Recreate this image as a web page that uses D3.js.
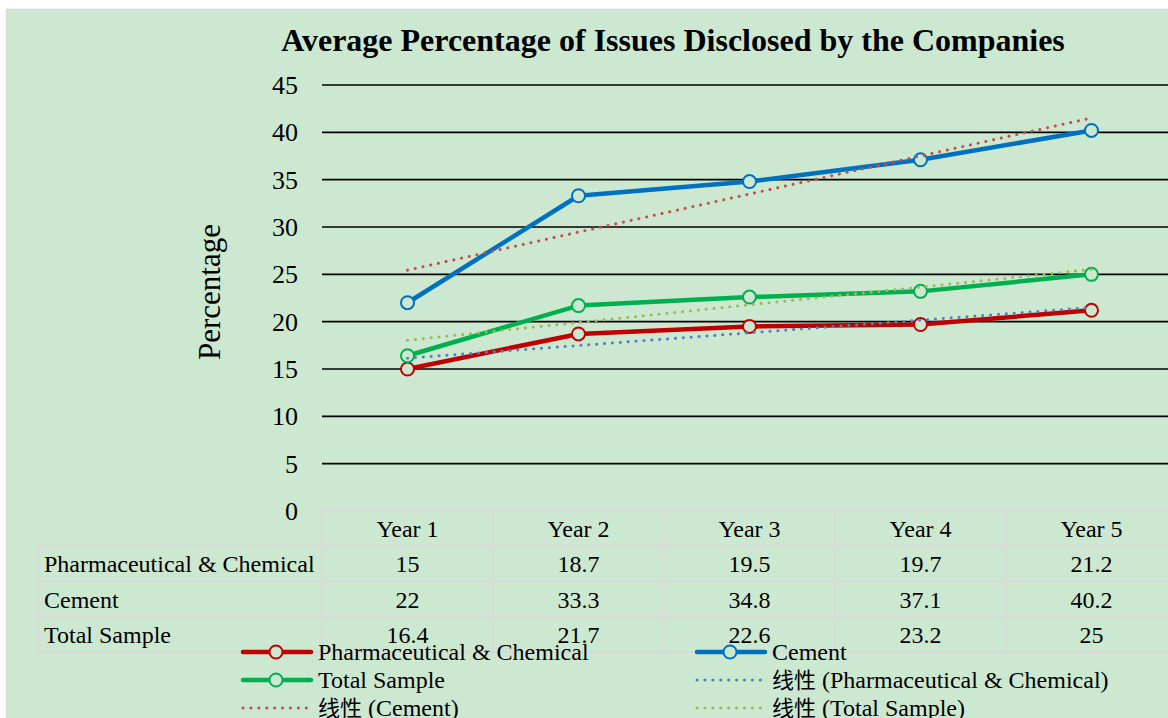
<!DOCTYPE html>
<html><head><meta charset="utf-8">
<script src="https://cdn.jsdelivr.net/npm/d3@7"></script>
<style>html,body{margin:0;padding:0;background:#fff;overflow:hidden}</style>
</head><body><svg id="c" width="1168" height="718"></svg>
<script>
const categories = ["Year 1","Year 2","Year 3","Year 4","Year 5"];
const pharma = [15, 18.7, 19.5, 19.7, 21.2];
const cement = [22, 33.3, 34.8, 37.1, 40.2];
const total = [16.4, 21.7, 22.6, 23.2, 25];
const yTicks = [0,5,10,15,20,25,30,35,40,45];
const title = "Average Percentage of Issues Disclosed by the Companies";
const yLabel = "Percentage";

const series = [
  {name:"Pharmaceutical & Chemical", values:pharma, color:"#c00000", trendColor:"#4f81bd"},
  {name:"Cement", values:cement, color:"#0070c0", trendColor:"#c0504d"},
  {name:"Total Sample", values:total, color:"#00b050", trendColor:"#9bbb59"}
];
const bg = "#cde8d0";
const font = "'Liberation Serif','Times New Roman',serif";
const cjk = "'Noto Sans CJK SC','Liberation Serif',serif";

const svg = d3.select("#c");
svg.append("rect").attr("x",6).attr("y",9).attr("width",1162).attr("height",709).attr("fill",bg);
svg.append("path").attr("d","M6.5,718V9.5H1168").attr("fill","none").attr("stroke","#d9d9d9").attr("stroke-width",1.5);

const left = 322, step = 171;
const x = d3.scaleBand().domain(categories).range([left, left + step*categories.length]).padding(0);
const y = d3.scaleLinear().domain([0,45]).range([511,85]);
const cx = c => x(c) + x.bandwidth()/2;

// title
svg.append("text").attr("x",673).attr("y",51).attr("text-anchor","middle")
  .attr("font-family",font).attr("font-weight","bold").attr("font-size",32).text(title);

// gridlines
svg.append("g").selectAll("line").data(yTicks.filter(t=>t>0)).join("line")
  .attr("x1",left).attr("x2",1168).attr("y1",d=>y(d)).attr("y2",d=>y(d))
  .attr("stroke","#000").attr("stroke-width",1.6);

// y tick labels
svg.append("g").selectAll("text").data(yTicks).join("text")
  .attr("x",298).attr("y",d=>y(d)).attr("dy","0.35em").attr("text-anchor","end")
  .attr("font-family",font).attr("font-size",26).text(d=>d);

// y label
svg.append("text").attr("transform","translate(220,292) rotate(-90)").attr("text-anchor","middle")
  .attr("font-family",font).attr("font-size",31).text(yLabel);

// data table
const tbl = svg.append("g");
const gridC = "#d9d9d9";
const rowY = [511,546,581,617,652];
const fs = 24;
tbl.append("line").attr("x1",left).attr("x2",1168).attr("y1",rowY[0]).attr("y2",rowY[0]).attr("stroke",gridC).attr("stroke-width",2);
rowY.slice(1).forEach(r=>tbl.append("line").attr("x1",38).attr("x2",1168).attr("y1",r).attr("y2",r).attr("stroke",gridC).attr("stroke-width",2));
tbl.append("line").attr("x1",38).attr("x2",38).attr("y1",546).attr("y2",652).attr("stroke",gridC).attr("stroke-width",2);
categories.forEach(c=>tbl.append("line").attr("x1",x(c)).attr("x2",x(c)).attr("y1",511).attr("y2",652).attr("stroke",gridC).attr("stroke-width",2));
tbl.selectAll("text.h").data(categories).join("text").attr("class","h")
  .attr("x",d=>cx(d)).attr("y",537).attr("text-anchor","middle")
  .attr("font-family",font).attr("font-size",fs).text(d=>d);
series.forEach((s,i)=>{
  const ty = 572 + i*35.5;
  tbl.append("text").attr("x",44).attr("y",ty).attr("font-family",font).attr("font-size",fs).text(s.name);
  tbl.selectAll(null).data(s.values).join("text")
    .attr("x",(d,j)=>cx(categories[j])).attr("y",ty).attr("text-anchor","middle")
    .attr("font-family",font).attr("font-size",fs).text(d=>d);
});

// lines
const line = d3.line().x((d,i)=>cx(categories[i])).y(d=>y(d));
series.forEach(s=>{
  svg.append("path").datum(s.values).attr("d",line).attr("fill","none")
    .attr("stroke",s.color).attr("stroke-width",4.5).attr("stroke-linejoin","round");
});
series.forEach(s=>{
  svg.append("g").selectAll("circle").data(s.values).join("circle")
    .attr("cx",(d,i)=>cx(categories[i])).attr("cy",d=>y(d)).attr("r",6.5)
    .attr("fill",bg).attr("stroke",s.color).attr("stroke-width",2);
});

// linear trendlines (least squares fit of each series)
function fit(v){
  const n=v.length, xs=v.map((_,i)=>i+1);
  const mx=d3.mean(xs), my=d3.mean(v);
  const b=d3.sum(xs.map((xi,i)=>(xi-mx)*(v[i]-my)))/d3.sum(xs.map(xi=>(xi-mx)**2));
  const a=my-b*mx;
  return [a+b*1, a+b*n];
}
series.forEach(s=>{
  const [y1,y2]=fit(s.values);
  svg.append("line").attr("x1",cx(categories[0])).attr("x2",cx(categories[categories.length-1]))
    .attr("y1",y(y1)).attr("y2",y(y2)).attr("stroke",s.trendColor).attr("stroke-width",3)
    .attr("stroke-dasharray","0.1,7.8").attr("stroke-linecap","round");
});

// legend
const legend = [
  {type:"line", s:series[0], label:"Pharmaceutical & Chemical", col:0, row:0},
  {type:"line", s:series[1], label:"Cement", col:1, row:0},
  {type:"line", s:series[2], label:"Total Sample", col:0, row:1},
  {type:"trend", color:series[0].trendColor, label:"线性 (Pharmaceutical & Chemical)", col:1, row:1},
  {type:"trend", color:series[1].trendColor, label:"线性 (Cement)", col:0, row:2},
  {type:"trend", color:series[2].trendColor, label:"线性 (Total Sample)", col:1, row:2}
];
const colX=[241,695], rowLY=[652,680,708];
legend.forEach(l=>{
  const g=svg.append("g").attr("transform",`translate(${colX[l.col]},${rowLY[l.row]})`);
  if(l.type==="line"){
    g.append("line").attr("x1",2).attr("x2",70).attr("y1",0).attr("y2",0).attr("stroke",l.s.color).attr("stroke-width",4.5).attr("stroke-linecap","round");
    g.append("circle").attr("cx",35).attr("cy",0).attr("r",6.5).attr("fill",bg).attr("stroke",l.s.color).attr("stroke-width",2);
  } else {
    g.append("line").attr("x1",2).attr("x2",70).attr("y1",0).attr("y2",0).attr("stroke",l.color).attr("stroke-width",3)
      .attr("stroke-dasharray","0.1,7.8").attr("stroke-linecap","round");
  }
  const t=g.append("text").attr("x",77).attr("y",0).attr("dy","0.35em").attr("font-family",font).attr("font-size",24);
  if(l.label.startsWith("线性")){
    t.append("tspan").attr("font-family",cjk).attr("font-size",22).text("线性");
    t.append("tspan").text(l.label.slice(2));
  } else t.text(l.label);
});
</script></body></html>
